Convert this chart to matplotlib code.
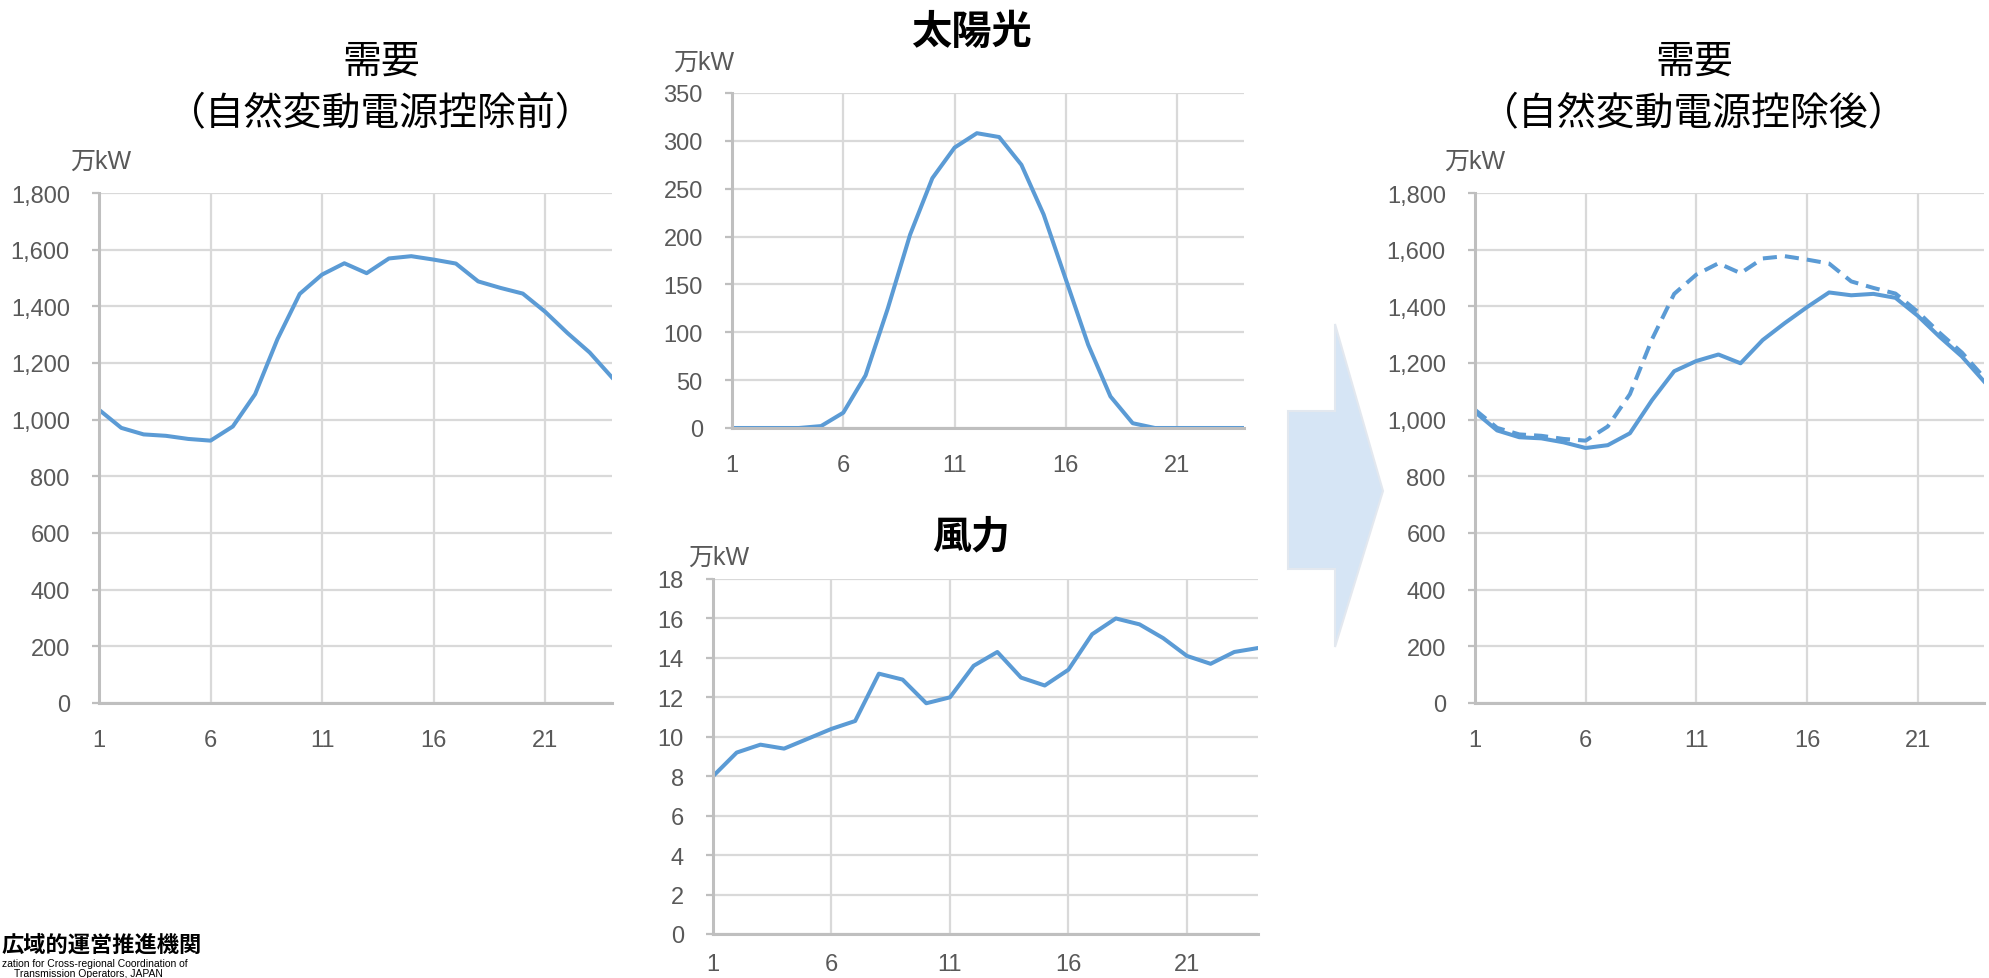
import matplotlib
matplotlib.use("Agg")
import matplotlib.pyplot as plt
import matplotlib.font_manager as fm
from matplotlib.patches import Polygon
from matplotlib.ticker import FuncFormatter

# hourly values, 1..24 (万kW)
hours = list(range(1, 25))
demand = [1035, 971, 948, 943, 932, 926, 976, 1090, 1284, 1444, 1512, 1552,
          1517, 1569, 1577, 1565, 1551, 1488, 1465, 1445, 1381, 1306, 1237, 1149]
solar = [0, 0, 0, 0, 2, 16, 55, 125, 202, 261, 293, 308,
         304, 275, 223, 155, 87, 33, 5, 0, 0, 0, 0, 0]
wind = [8.0, 9.2, 9.6, 9.4, 9.9, 10.4, 10.8, 13.2, 12.9, 11.7, 12.0, 13.6,
        14.3, 13.0, 12.6, 13.4, 15.2, 16.0, 15.7, 15.0, 14.1, 13.7, 14.3, 14.5]
net_demand = [1027, 962, 938, 934, 920, 900, 910, 952, 1069, 1171, 1207, 1230,
              1199, 1281, 1341, 1397, 1449, 1439, 1444, 1430, 1367, 1292, 1223, 1135]
xticks = [1, 6, 11, 16, 21]

names = {f.name for f in fm.fontManager.ttflist}
narrow = "Liberation Sans Narrow" if "Liberation Sans Narrow" in names else "Liberation Sans"
plt.rcParams["font.family"] = [narrow, "Noto Sans CJK JP", "DejaVu Sans"]

BLUE = "#5b9bd5"
GRAY_TXT = "#595959"
GRID = "#d9d9d9"
AXIS = "#bfbfbf"

fig = plt.figure(figsize=(19.9, 9.79), dpi=100)
W, H = 1990, 979


def px_axes(x0, y0, x1, y1):
    return fig.add_axes([x0 / W, 1 - y1 / H, (x1 - x0) / W, (y1 - y0) / H])


def style(ax, ymax, ystep, comma=False, xpad=19, ypad=16):
    ax.set_xlim(1, 24)
    ax.set_ylim(0, ymax)
    ax.set_xticks(xticks)
    ax.set_yticks(range(0, ymax + 1, ystep))
    if comma:
        ax.yaxis.set_major_formatter(FuncFormatter(lambda v, p: f"{int(v):,}"))
    for s in ["top", "right"]:
        ax.spines[s].set_visible(False)
    for s in ["left", "bottom"]:
        ax.spines[s].set_color(AXIS)
        ax.spines[s].set_linewidth(2.2)
    ax.grid(True, color=GRID, linewidth=1.6)
    ax.set_axisbelow(True)
    ax.tick_params(axis="y", length=5, width=1.6, color=AXIS, pad=ypad,
                   labelsize=17, labelcolor=GRAY_TXT)
    ax.tick_params(axis="x", length=0, pad=xpad, labelsize=17, labelcolor=GRAY_TXT)


def unit(x, y):
    fig.text(x / W, 1 - y / H, "万kW", fontsize=18, color=GRAY_TXT, va="center", ha="left")


def title(x, y, s, size, weight="normal"):
    fig.text(x / W, 1 - y / H, s, fontsize=size, ha="center", va="center",
             family="Noto Sans CJK JP", weight=weight)


# demand before subtraction
ax1 = px_axes(99, 194, 612, 704)
style(ax1, 1800, 200, comma=True)
ax1.plot(hours, demand, color=BLUE, lw=2.9)
title(381, 62, "需要", 28)
title(381, 114, "（自然変動電源控除前）", 28)
unit(70, 162)

# solar
ax2 = px_axes(732, 94, 1244, 429)
style(ax2, 350, 50)
ax2.plot(hours, solar, color=BLUE, lw=2.9)
title(971, 32, "太陽光", 29, "bold")
unit(673, 63)

# wind
ax3 = px_axes(713, 580, 1258, 935)
style(ax3, 18, 2, xpad=14)
ax3.plot(hours, wind, color=BLUE, lw=2.9)
title(971, 537, "風力", 28, "bold")
unit(688, 558)

# demand after subtraction
ax4 = px_axes(1475, 194, 1984, 704)
style(ax4, 1800, 200, comma=True)
ax4.plot(hours, demand, color=BLUE, lw=2.9, linestyle=(0, (3.5, 2)))
ax4.plot(hours, net_demand, color=BLUE, lw=2.9)
title(1694, 62, "需要", 28)
title(1694, 114, "（自然変動電源控除後）", 28)
unit(1444, 162)

# block arrow between panels
arrow_px = [(1288, 412), (1335, 412), (1335, 325), (1383, 492),
            (1335, 648), (1335, 570), (1288, 570)]
arrow = Polygon([(x / W, 1 - y / H) for x, y in arrow_px], closed=True,
                transform=fig.transFigure, facecolor="#d6e5f5", edgecolor="#e3e8ef", lw=1.5)
fig.patches.append(arrow)

# organisation mark
fig.text(2 / W, 1 - 945 / H, "広域的運営推進機関", fontsize=16, weight="bold",
         ha="left", va="center", family="Noto Sans CJK JP")
fig.text(2 / W, 1 - 964 / H, "zation for Cross-regional Coordination of", fontsize=7.5,
         ha="left", va="center")
fig.text(14 / W, 1 - 974 / H, "Transmission Operators, JAPAN", fontsize=7.5,
         ha="left", va="center")

fig.savefig("out.png", dpi=100)
